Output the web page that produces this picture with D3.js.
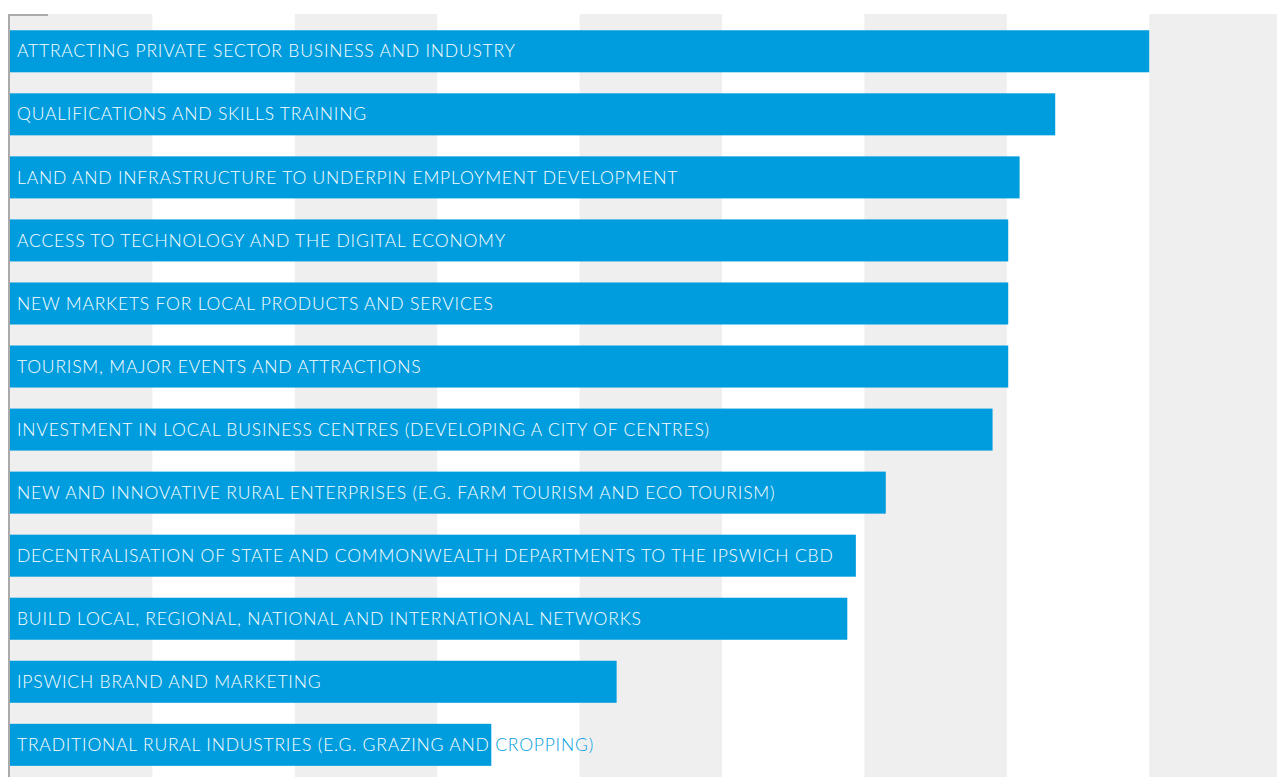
<!DOCTYPE html>
<html lang="en">
<head>
    <meta charset="UTF-8">
    <script src="https://cdnjs.cloudflare.com/ajax/libs/d3/7.8.5/d3.min.js"></script>
    <style>
        body { margin: 0; background: #fff; }
        svg { display: block; }
    </style>
</head>
<body>
    <script>
        // categories, top to bottom
        var categories = [
            "ATTRACTING PRIVATE SECTOR BUSINESS AND INDUSTRY",
            "QUALIFICATIONS AND SKILLS TRAINING",
            "LAND AND INFRASTRUCTURE TO UNDERPIN EMPLOYMENT DEVELOPMENT",
            "ACCESS TO TECHNOLOGY AND THE DIGITAL ECONOMY",
            "NEW MARKETS FOR LOCAL PRODUCTS AND SERVICES",
            "TOURISM, MAJOR EVENTS AND ATTRACTIONS",
            "INVESTMENT IN LOCAL BUSINESS CENTRES (DEVELOPING A CITY OF CENTRES)",
            "NEW AND INNOVATIVE RURAL ENTERPRISES (E.G. FARM TOURISM AND ECO TOURISM)",
            "DECENTRALISATION OF STATE AND COMMONWEALTH DEPARTMENTS TO THE IPSWICH CBD",
            "BUILD LOCAL, REGIONAL, NATIONAL AND INTERNATIONAL NETWORKS",
            "IPSWICH BRAND AND MARKETING",
            "TRADITIONAL RURAL INDUSTRIES (E.G. GRAZING AND CROPPING)"
        ];
        var values = [80, 73.4, 70.9, 70.1, 70.1, 70.1, 69.0, 61.5, 59.4, 58.8, 42.6, 33.8];
        var gridTicks = [0, 10, 20, 30, 40, 50, 60, 70, 80, 90];

        var width = 1277, height = 777;
        var svg = d3.select("body").append("svg")
            .attr("width", width)
            .attr("height", height);

        var x = d3.scaleLinear().domain([0, 90]).range([10, 10 + 9 * 142.4]);
        var y = d3.scaleBand().domain(categories)
            .range([14.5, 14.5 + 63.05 * (12 - 1/3 + 0.5)])
            .paddingInner(1/3).paddingOuter(0.25);

        // alternating background stripes
        svg.selectAll(".stripe").data(gridTicks.slice(0, -1).filter((d, i) => i % 2 === 0))
            .enter().append("rect")
            .attr("class", "stripe")
            .attr("x", d => x(d))
            .attr("y", 14)
            .attr("width", d => x(d + 10) - x(d))
            .attr("height", height - 14)
            .attr("fill", "#efefef");

        var blue = "#009dde";

        svg.selectAll(".clip").data(categories).enter()
            .append("clipPath").attr("id", (d, i) => "clip" + i)
            .append("rect")
            .attr("x", x(0))
            .attr("y", d => y(d))
            .attr("width", (d, i) => x(values[i]) - x(0))
            .attr("height", y.bandwidth());

        var rows = svg.selectAll(".row").data(categories).enter().append("g").attr("class", "row");

        rows.append("rect")
            .attr("x", x(0))
            .attr("y", d => y(d))
            .attr("width", (d, i) => x(values[i]) - x(0))
            .attr("height", y.bandwidth())
            .attr("fill", blue);

        // label in blue outside the bar, white inside it
        function label(sel, colour) {
            sel.append("text")
                .attr("x", 17)
                .attr("y", d => y(d) + y.bandwidth() / 2)
                .attr("dy", "0.35em")
                .attr("fill", colour)
                .style("font-family", "Lato, 'Open Sans', sans-serif")
                .style("font-weight", 300)
                .style("font-size", "17.5px")
                .style("letter-spacing", "0.8px")
                .text(d => d);
        }
        label(rows, blue);
        label(rows, "#fff");
        rows.selectAll("text:last-child").attr("clip-path", function() {
            var i = categories.indexOf(d3.select(this).datum());
            return "url(#clip" + i + ")";
        });

        // axis line and top tick
        svg.append("line")
            .attr("x1", 9).attr("x2", 9)
            .attr("y1", 14).attr("y2", height)
            .attr("stroke", "#aaa").attr("stroke-width", 2);
        svg.append("line")
            .attr("x1", 8).attr("x2", 48)
            .attr("y1", 15).attr("y2", 15)
            .attr("stroke", "#aaa").attr("stroke-width", 2);
    </script>
</body>
</html>
